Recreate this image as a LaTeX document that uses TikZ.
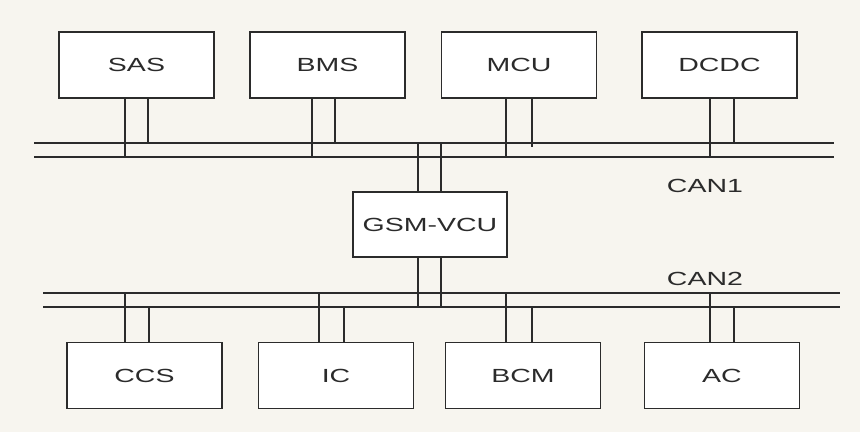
\documentclass[tikz,border=0pt]{standalone}
\usepackage{fontspec}
\usepackage{xcolor}
\usepackage{tikz}
\usetikzlibrary{positioning,calc}
\newfontfamily\ecufont[FakeStretch=1.5]{Liberation Sans}
\definecolor{paper}{HTML}{F7F5EF}
\definecolor{ink}{HTML}{2B2B2B}

\begin{document}
\begin{tikzpicture}[
    x=1pt, y=-1pt,
    ecu/.style={draw=ink, line width=1.4pt, fill=white, minimum width=155pt, minimum height=66pt, inner sep=0pt, font=\ecufont\fontsize{19}{21}\selectfont, text=ink},
    wire/.style={draw=ink, line width=1.4pt},
    busname/.style={font=\ecufont\fontsize{19}{21}\selectfont, text=ink}
  ]
    \fill[paper] (0,0) rectangle (860,432);
    \useasboundingbox (0,0) rectangle (860,432);

    % ECUs on CAN1
    \node[ecu] (sas) at (136.5,65) {SAS};
    \node[ecu] (bms) at (327.5,65) {BMS};
    \node[ecu] (mcu) at (519,65) {MCU};
    \node[ecu] (dcdc) at (719.5,65) {DCDC};

    % gateway
    \node[ecu, minimum width=154pt, minimum height=65pt] (gsm) at (430,224.5) {GSM-VCU};

    % ECUs on CAN2
    \node[ecu] (ccs) at (144.5,375.5) {CCS};
    \node[ecu] (ic) at (336,375.5) {IC};
    \node[ecu] (bcm) at (523,375.5) {BCM};
    \node[ecu] (ac) at (722,375.5) {AC};

    % bus lines
    \coordinate (canAhi) at (34,143);
    \coordinate (canAlo) at (34,157);
    \coordinate (canAhiE) at (834,143);
    \coordinate (canAloE) at (834,157);
    \coordinate (canBhi) at (43,293);
    \coordinate (canBlo) at (43,307);
    \coordinate (canBhiE) at (840,293);
    \coordinate (canBloE) at (840,307);
    \draw[wire] (canAhi) -- (canAhiE);
    \draw[wire] (canAlo) -- (canAloE);
    \draw[wire] (canBhi) -- (canBhiE);
    \draw[wire] (canBlo) -- (canBloE);

    \node[busname] (can1) at (705,186) {CAN1};
    \node[busname] (can2) at (705,279) {CAN2};

    % taps onto CAN1
    \draw[wire] ([xshift=-11.5pt]sas.south) -- ([xshift=-11.5pt]sas.south |- canAlo);
    \draw[wire] ([xshift=11.5pt]sas.south) -- ([xshift=11.5pt]sas.south |- canAhi);
    \draw[wire] ([xshift=-15.5pt]bms.south) -- ([xshift=-15.5pt]bms.south |- canAlo);
    \draw[wire] ([xshift=7.5pt]bms.south) -- ([xshift=7.5pt]bms.south |- canAhi);
    \draw[wire] ([xshift=-13pt]mcu.south) -- ([xshift=-13pt]mcu.south |- canAlo);
    \draw[wire] ([xshift=13pt]mcu.south) -- ([xshift=13pt,yshift=-4pt]mcu.south |- canAhi);
    \draw[wire] ([xshift=-9.5pt]dcdc.south) -- ([xshift=-9.5pt]dcdc.south |- canAlo);
    \draw[wire] ([xshift=14.5pt]dcdc.south) -- ([xshift=14.5pt]dcdc.south |- canAhi);

    % gateway on both buses
    \draw[wire] ([xshift=-12pt]gsm.north) -- ([xshift=-12pt]gsm.north |- canAhi);
    \draw[wire] ([xshift=11pt]gsm.north) -- ([xshift=11pt]gsm.north |- canAhi);
    \draw[wire] ([xshift=-12pt]gsm.south) -- ([xshift=-12pt]gsm.south |- canBlo);
    \draw[wire] ([xshift=11pt]gsm.south) -- ([xshift=11pt]gsm.south |- canBlo);

    % taps onto CAN2
    \draw[wire] ([xshift=-19.5pt]ccs.north) -- ([xshift=-19.5pt]ccs.north |- canBhi);
    \draw[wire] ([xshift=4.5pt]ccs.north) -- ([xshift=4.5pt]ccs.north |- canBlo);
    \draw[wire] ([xshift=-17pt]ic.north) -- ([xshift=-17pt]ic.north |- canBhi);
    \draw[wire] ([xshift=8pt]ic.north) -- ([xshift=8pt]ic.north |- canBlo);
    \draw[wire] ([xshift=-17pt]bcm.north) -- ([xshift=-17pt]bcm.north |- canBhi);
    \draw[wire] ([xshift=9pt]bcm.north) -- ([xshift=9pt]bcm.north |- canBlo);
    \draw[wire] ([xshift=-12pt]ac.north) -- ([xshift=-12pt]ac.north |- canBhi);
    \draw[wire] ([xshift=12pt]ac.north) -- ([xshift=12pt]ac.north |- canBlo);
  \end{tikzpicture}
\end{document}
